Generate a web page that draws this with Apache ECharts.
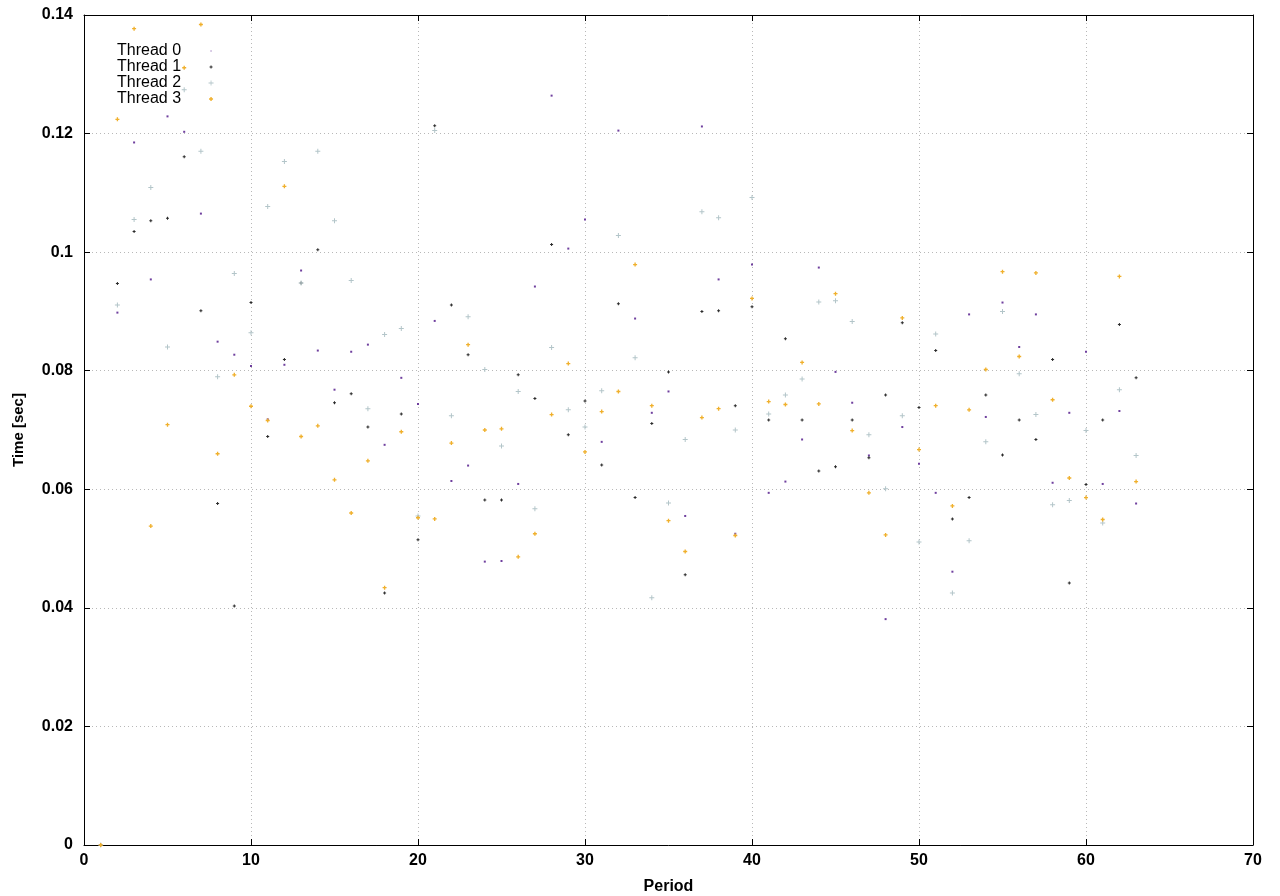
<!DOCTYPE html>
<html>
<head>
<meta charset="utf-8">
<script src="https://cdn.jsdelivr.net/npm/echarts@6/dist/echarts.min.js"></script>
<style>
html,body{margin:0;padding:0;background:#fff;}
#chart{width:1280px;height:896px;}
</style>
</head>
<body>
<div id="chart"></div>
<script>
const periods = [1,2,3,4,5,6,7,8,9,10,11,12,13,14,15,16,17,18,19,20,21,22,23,24,25,26,27,28,29,30,31,32,33,34,35,36,37,38,39,40,41,42,43,44,45,46,47,48,49,50,51,52,53,54,55,56,57,58,59,60,61,62,63];

const thread0 = [0,0.0898,0.1185,0.0954,0.1229,0.1203,0.1065,0.0849,0.0827,0.0808,0.0718,0.0810,0.0969,0.0834,0.0768,0.0832,0.0844,0.0675,0.0788,0.0744,0.0884,0.0614,0.0640,0.0478,0.0479,0.0609,0.0942,0.1264,0.1006,0.1055,0.0680,0.1205,0.0888,0.0729,0.0765,0.0555,0.1212,0.0954,0.0525,0.0979,0.0594,0.0613,0.0684,0.0974,0.0798,0.0746,0.0657,0.0381,0.0705,0.0643,0.0594,0.0461,0.0895,0.0722,0.0915,0.0840,0.0895,0.0611,0.0729,0.0832,0.0609,0.0732,0.0576];

const thread1 = [0,0.0947,0.1035,0.1053,0.1057,0.1161,0.0901,0.0576,0.0403,0.0915,0.0689,0.0819,0.0948,0.1004,0.0746,0.0761,0.0705,0.0425,0.0727,0.0515,0.1213,0.0911,0.0827,0.0582,0.0582,0.0793,0.0753,0.1013,0.0692,0.0749,0.0641,0.0913,0.0586,0.0711,0.0798,0.0456,0.0900,0.0901,0.0741,0.0908,0.0717,0.0854,0.0717,0.0631,0.0638,0.0717,0.0653,0.0759,0.0881,0.0738,0.0834,0.0550,0.0586,0.0759,0.0658,0.0717,0.0684,0.0819,0.0442,0.0608,0.0717,0.0878,0.0788];

const thread2 = [0,0.0911,0.1055,0.1109,0.0840,0.1274,0.1170,0.0790,0.0964,0.0864,0.1077,0.1153,0.0948,0.1170,0.1053,0.0952,0.0736,0.0861,0.0871,0.0555,0.1205,0.0724,0.0891,0.0802,0.0673,0.0765,0.0567,0.0839,0.0734,0.0705,0.0766,0.1028,0.0822,0.0417,0.0577,0.0684,0.1068,0.1058,0.0700,0.1092,0.0727,0.0759,0.0786,0.0916,0.0918,0.0883,0.0692,0.0601,0.0724,0.0511,0.0862,0.0425,0.0513,0.0680,0.0900,0.0795,0.0726,0.0574,0.0581,0.0699,0.0543,0.0768,0.0657];

const thread3 = [0,0.1224,0.1377,0.0538,0.0709,0.1311,0.1384,0.0660,0.0793,0.0740,0.0716,0.1111,0.0689,0.0707,0.0616,0.0560,0.0648,0.0434,0.0697,0.0552,0.0550,0.0678,0.0844,0.0700,0.0702,0.0486,0.0525,0.0726,0.0812,0.0663,0.0731,0.0765,0.0979,0.0741,0.0547,0.0495,0.0721,0.0736,0.0522,0.0922,0.0748,0.0743,0.0814,0.0744,0.0930,0.0699,0.0594,0.0523,0.0889,0.0667,0.0741,0.0572,0.0734,0.0802,0.0967,0.0824,0.0965,0.0751,0.0619,0.0586,0.0549,0.0959,0.0613];

const seriesNames = ['Thread 0','Thread 1','Thread 2','Thread 3'];
const xTicks = [0,10,20,30,40,50,60,70];
const yTicks = [0,0.02,0.04,0.06,0.08,0.1,0.12,0.14];

const FONT = '"Liberation Sans", Arial, Helvetica, sans-serif';
const threads = [thread0, thread1, thread2, thread3];
const colors = ['#6f3f9e', '#2b2b2b', '#b3c5c9', '#f0b02c'];
const symbols = [
  'rect',
  'path://M1,0H2V1H3V2H2V3H1V2H0V1H1Z',
  'path://M2,0H3V2H5V3H3V5H2V3H0V2H2Z',
  'path://M1,0H2V1H3V2H2V3H1V2H0V1H1Z'
];
const sizes = [2, 3, 5, 4];
const legendIcons = [
  'path://M0,0M10,10M4.5,4.5H5.5V5.5H4.5Z',
  'path://M0,0M10,10M4.5,3.5H5.5V4.5H6.5V5.5H5.5V6.5H4.5V5.5H3.5V4.5H4.5Z',
  'path://M0,0M10,10M4.6,2.5H5.4V4.6H7.5V5.4H5.4V7.5H4.6V5.4H2.5V4.6H4.6Z',
  'path://M0,0M10,10M4.3,3H5.7V4.3H7V5.7H5.7V7H4.3V5.7H3V4.3H4.3Z'
];

const series = threads.map((arr, k) => ({
  name: seriesNames[k],
  type: 'scatter',
  xAxisIndex: 0,
  yAxisIndex: 0,
  symbol: symbols[k],
  symbolSize: sizes[k],
  itemStyle: { color: colors[k], opacity: 1 },
  emphasis: { disabled: true },
  animation: false,
  z: 2 + k,
  data: periods.map((p, i) => [p, arr[i]])
}));

const axisCommonX = {
  type: 'value', min: xTicks[0], max: xTicks[xTicks.length - 1], interval: 10
};
const axisCommonY = {
  type: 'value', min: yTicks[0], max: yTicks[yTicks.length - 1], interval: 0.02
};

const chart = echarts.init(document.getElementById('chart'), null, { renderer: 'canvas' });
chart.setOption({
  backgroundColor: '#ffffff',
  animation: false,
  textStyle: { fontFamily: FONT, color: '#000' },
  grid: { left: 84, right: 27, top: 15, bottom: 51, containLabel: false, outerBoundsMode: 'none' },
  legend: {
    orient: 'vertical',
    left: 112,
    top: 38,
    align: 'right',
    itemWidth: 10,
    itemHeight: 16,
    itemGap: 0,
    selectedMode: false,
    textStyle: { fontFamily: FONT, fontSize: 16, color: '#000', padding: [0, 20, 0, 0] },
    data: seriesNames.map((n, k) => ({ name: n, icon: legendIcons[k], itemStyle: { color: colors[k] } }))
  },
  xAxis: [
    Object.assign({}, axisCommonX, {
      position: 'bottom',
      name: 'Period',
      nameLocation: 'middle',
      nameGap: 34,
      nameTextStyle: { fontFamily: FONT, fontSize: 16, fontWeight: 'bold', color: '#000' },
      axisLine: { show: true, onZero: false, lineStyle: { color: '#000', width: 1 } },
      axisTick: { show: true, inside: true, length: 6, lineStyle: { color: '#000' } },
      axisLabel: { show: true, margin: 8, fontFamily: FONT, fontSize: 16, fontWeight: 'bold', color: '#000' },
      splitLine: { show: true, lineStyle: { color: '#b8b8b8', type: [1, 3], width: 1 } }
    }),
    Object.assign({}, axisCommonX, {
      position: 'top',
      axisLine: { show: true, onZero: false, lineStyle: { color: '#000', width: 1 } },
      axisTick: { show: true, inside: true, length: 6, lineStyle: { color: '#000' } },
      axisLabel: { show: false },
      splitLine: { show: false }
    })
  ],
  yAxis: [
    Object.assign({}, axisCommonY, {
      position: 'left',
      name: 'Time [sec]',
      nameLocation: 'middle',
      nameGap: 58,
      nameRotate: 90,
      nameTextStyle: { fontFamily: FONT, fontSize: 15, fontWeight: 'bold', color: '#000' },
      axisLine: { show: true, onZero: false, lineStyle: { color: '#000', width: 1 } },
      axisTick: { show: true, inside: true, length: 6, lineStyle: { color: '#000' } },
      axisLabel: { show: true, margin: 11, fontFamily: FONT, fontSize: 16, fontWeight: 'bold', color: '#000' },
      splitLine: { show: true, lineStyle: { color: '#b8b8b8', type: [1, 3], width: 1 } }
    }),
    Object.assign({}, axisCommonY, {
      position: 'right',
      axisLine: { show: true, onZero: false, lineStyle: { color: '#000', width: 1 } },
      axisTick: { show: true, inside: true, length: 6, lineStyle: { color: '#000' } },
      axisLabel: { show: false },
      splitLine: { show: false }
    })
  ],
  series: series
});
</script>
</body>
</html>
